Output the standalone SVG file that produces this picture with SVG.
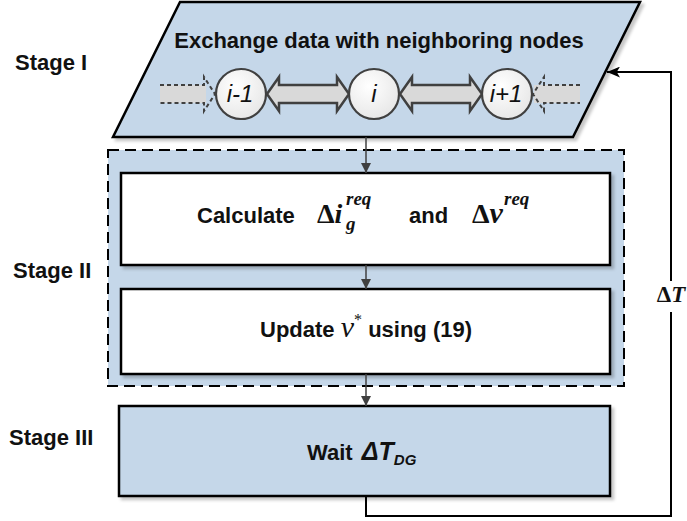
<svg xmlns="http://www.w3.org/2000/svg" width="687" height="521" viewBox="0 0 687 521">
<defs>
<filter id="sh" x="-5%" y="-5%" width="115%" height="120%">
<feDropShadow dx="3" dy="3" stdDeviation="1.5" flood-color="#000" flood-opacity="0.22"/>
</filter>
<radialGradient id="cg" cx="0.4" cy="0.35" r="0.7">
<stop offset="0" stop-color="#ffffff"/>
<stop offset="1" stop-color="#e6e6e6"/>
</radialGradient>
<marker id="ag" viewBox="0 0 10 10" refX="10" refY="5" markerWidth="10" markerHeight="10" markerUnits="userSpaceOnUse" orient="auto">
<path d="M0,0 L10,5 L0,10 Z" fill="#404040"/>
</marker>
<marker id="ab" viewBox="0 0 12 10" refX="12" refY="5" markerWidth="13" markerHeight="11" markerUnits="userSpaceOnUse" orient="auto">
<path d="M0,0 L12,5 L0,10 L3,5 Z" fill="#000"/>
</marker>
</defs>
<style>
.lbl{font-family:"Liberation Sans",Arial,sans-serif;font-weight:bold;font-size:21px;fill:#111}
.math{font-family:"Liberation Serif","DejaVu Serif",serif;font-weight:bold;fill:#111}
.node{font-family:"Liberation Sans",Arial,sans-serif;font-style:italic;font-size:24px;fill:#111}
.blue{fill:#c5d7e9;stroke:#000;stroke-width:2.5}
.white{fill:#fff;stroke:#000;stroke-width:2.5}
.dbl{fill:#d9d9d9;stroke:#404040;stroke-width:2.5;stroke-linejoin:miter}
.dsh{fill:none;stroke:#404040;stroke-width:2;stroke-dasharray:4 3}
.conn{fill:none;stroke:#404040;stroke-width:1.5}
.loop{fill:none;stroke:#000;stroke-width:2}
</style>

<g id="labels">
<text class="lbl" x="15" y="70" style="font-size:22px">Stage I</text>
<text class="lbl" x="13" y="278" style="font-size:22px">Stage II</text>
<text class="lbl" x="9" y="445" style="font-size:22px">Stage III</text>
</g>

<g id="stage1">
<polygon class="blue" filter="url(#sh)" points="180,2 640,2 573,137 113,137"/>
<text class="lbl" x="379" y="48" text-anchor="middle" style="font-size:22px">Exchange data with neighboring nodes</text>
<g id="links">
<rect x="160" y="85" width="46" height="18" fill="#d9d9d9"/>
<path class="dsh" d="M160,85 L204,85 L204,77 L215,94 L204,111 L204,103 L160,103"/>
<rect x="534" y="85" width="46" height="18" fill="#d9d9d9"/>
<path class="dsh" d="M580,85 L544,85 L544,77 L533,94 L544,111 L544,103 L580,103"/>
<path class="dbl" d="M267,94 L279,77 L279,85 L337,85 L337,77 L349,94 L337,111 L337,103 L279,103 L279,111 Z"/>
<path class="dbl" d="M400,94 L412,77 L412,85 L470,85 L470,77 L482,94 L470,111 L470,103 L412,103 L412,111 Z"/>
</g>
<g id="node-im1">
<circle cx="241" cy="94" r="25" fill="url(#cg)" stroke="#404040" stroke-width="2.2"/>
<text class="node" x="240" y="102" text-anchor="middle">i-1</text>
</g>
<g id="node-i">
<circle cx="374" cy="94" r="25" fill="url(#cg)" stroke="#404040" stroke-width="2.2"/>
<text class="node" x="374" y="102" text-anchor="middle">i</text>
</g>
<g id="node-ip1">
<circle cx="507" cy="94" r="25" fill="url(#cg)" stroke="#404040" stroke-width="2.2"/>
<text class="node" x="506" y="102" text-anchor="middle">i+1</text>
</g>
</g>

<g id="stage2">
<rect x="108" y="150" width="516" height="236" fill="#c5d7e9" stroke="#000" stroke-width="2" stroke-dasharray="11 6"/>
</g>

<g id="calc">
<rect class="white" filter="url(#sh)" x="121" y="173" width="489" height="92"/>
<text class="lbl" x="197" y="223" style="font-size:22px">Calculate</text>
<text class="math" x="317" y="223" font-size="28">Δ<tspan font-style="italic">i</tspan></text>
<text class="math" x="346" y="205" font-size="19" font-style="italic">req</text>
<text class="math" x="346" y="230" font-size="19" font-style="italic">g</text>
<text class="lbl" x="409" y="223" style="font-size:22px">and</text>
<text class="math" x="472" y="223" font-size="28">Δ<tspan font-style="italic" style="font-size:30px">v</tspan></text>
<text class="math" x="504" y="205" font-size="19" font-style="italic">req</text>
</g>

<g id="update">
<rect class="white" filter="url(#sh)" x="121" y="289" width="489" height="85"/>
<text class="lbl" x="260" y="337" style="font-size:22px">Update <tspan style="font-family:'Liberation Serif',serif;font-style:italic;font-weight:normal;font-size:30px">v</tspan><tspan style="font-family:'Liberation Serif',serif;font-weight:normal;font-size:16px" dy="-12">*</tspan><tspan dy="12"> using (19)</tspan></text>
</g>

<g id="wait">
<rect class="blue" filter="url(#sh)" x="119" y="406" width="491" height="90"/>
<text class="lbl" x="307" y="460" style="font-size:22px">Wait <tspan style="font-style:italic;font-size:25px" dx="3">ΔT</tspan><tspan style="font-style:italic;font-size:15px" dy="5">DG</tspan></text>
</g>

<g id="connectors">
<line class="conn" x1="366" y1="137" x2="366" y2="173" marker-end="url(#ag)"/>
<line class="conn" x1="366" y1="265" x2="366" y2="289" marker-end="url(#ag)"/>
<line class="conn" x1="366" y1="374" x2="366" y2="406" marker-end="url(#ag)"/>
<path class="loop" d="M366,496 L366,516 L671,516 L671,312"/>
<path class="loop" d="M671,281 L671,72 L607,72" marker-end="url(#ab)"/>
<text class="math" x="671" y="302" font-size="23" text-anchor="middle">Δ<tspan font-style="italic">T</tspan></text>
</g>
</svg>
